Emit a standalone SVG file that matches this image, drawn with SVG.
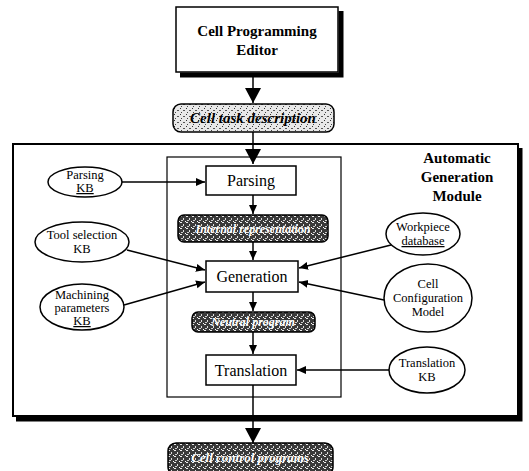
<svg xmlns="http://www.w3.org/2000/svg" width="529" height="471" viewBox="0 0 529 471">
<defs>
<pattern id="lite" width="6" height="6" patternUnits="userSpaceOnUse">
<rect width="6" height="6" fill="#e8e8e8"/>
<rect x="0" y="0" width="1" height="1" fill="#333"/>
<rect x="3" y="2" width="2" height="1" fill="#555"/>
<rect x="1" y="4" width="1" height="1" fill="#444"/>
</pattern>
<pattern id="dark" width="6" height="6" patternUnits="userSpaceOnUse">
<rect width="6" height="6" fill="#3a3a3a"/>
<rect x="0" y="0" width="2" height="1" fill="#eee"/>
<rect x="3" y="2" width="1" height="2" fill="#ddd"/>
<rect x="1" y="4" width="2" height="1" fill="#ccc"/>
<rect x="5" y="5" width="1" height="1" fill="#fff"/>
</pattern>
<marker id="big" markerWidth="16" markerHeight="16" refX="15" refY="8" orient="auto" markerUnits="userSpaceOnUse">
<path d="M0,0 L15,8 L0,16 Z" fill="#000"/>
</marker>
<marker id="sm" markerWidth="10" markerHeight="10" refX="9" refY="5" orient="auto" markerUnits="userSpaceOnUse">
<path d="M0,1 L9,5 L0,9 Z" fill="#000"/>
</marker>
<style>
.box{fill:#fff;stroke:#000;stroke-width:1.5}
.ell{fill:#fff;stroke:#000;stroke-width:1.5}
text{font-family:'Liberation Serif','DejaVu Serif',serif;text-anchor:middle;fill:#000}
.b{font-weight:bold}
.proc{font-size:16px}
.kb{font-size:12.5px}
.data{font-style:italic;font-weight:bold}
.inv{fill:#fff}
.line{stroke:#000;stroke-width:1.5;fill:none}
.shadow{stroke:#000;fill:none}
</style>
</defs>

<g id="editor">
<path class="shadow" d="M341,11 L341,75 L180,75" stroke-width="5"/>
<rect class="box" x="176" y="7" width="162" height="65" stroke-width="2"/>
<text class="b" x="257" y="36" font-size="15">Cell Programming</text>
<text class="b" x="257" y="55" font-size="15">Editor</text>
</g>

<g id="cell-task-description">
<rect x="173" y="104" width="161" height="28" rx="8" fill="url(#lite)" stroke="#000" stroke-width="1.5"/>
<text class="data" x="253" y="123" font-size="15">Cell task description</text>
</g>

<g id="agm">
<path class="shadow" d="M520,148 L520,419 L16,419" stroke-width="5"/>
<rect x="13" y="144" width="505" height="272" fill="none" stroke="#000" stroke-width="2"/>
<text class="b" x="457" y="163" font-size="15">Automatic</text>
<text class="b" x="457" y="182" font-size="15">Generation</text>
<text class="b" x="457" y="201" font-size="15">Module</text>
<rect x="167" y="157" width="174" height="240" fill="none" stroke="#000" stroke-width="1.2"/>
</g>

<g id="parsing">
<rect class="box" x="206" y="166" width="90" height="29"/>
<text class="proc" x="251" y="186">Parsing</text>
</g>

<g id="parsed-data">
<rect x="178" y="215" width="150" height="27" rx="6" fill="url(#dark)" stroke="#000" stroke-width="1.5"/>
<text class="data inv" x="253" y="233" font-size="12">Internal representation</text>
</g>

<g id="generation">
<rect class="box" x="206" y="261" width="92" height="31"/>
<text class="proc" x="252" y="282">Generation</text>
</g>

<g id="generated-data">
<rect x="192" y="312" width="123" height="20" rx="6" fill="url(#dark)" stroke="#000" stroke-width="1.5"/>
<text class="data inv" x="253" y="326" font-size="12">Neutral program</text>
</g>

<g id="translation">
<rect class="box" x="206" y="355" width="90" height="30"/>
<text class="proc" x="251" y="376">Translation</text>
</g>

<g id="cell-programs">
<rect x="168" y="443" width="165" height="32" rx="8" fill="url(#dark)" stroke="#000" stroke-width="1.5"/>
<text class="data inv" x="250" y="462" font-size="13">Cell control programs</text>
</g>

<g id="parsing-kb">
<ellipse class="ell" cx="85" cy="182" rx="37" ry="15"/>
<text class="kb" x="85" y="179">Parsing</text>
<text class="kb" x="85" y="192" text-decoration="underline">KB</text>
</g>

<g id="tool-selection-kb">
<ellipse class="ell" cx="82" cy="242" rx="47" ry="20"/>
<text class="kb" x="82" y="239">Tool selection</text>
<text class="kb" x="82" y="253">KB</text>
</g>

<g id="machining-parameters-kb">
<ellipse class="ell" cx="82" cy="307" rx="42" ry="23"/>
<text class="kb" x="82" y="299">Machining</text>
<text class="kb" x="82" y="312">parameters</text>
<text class="kb" x="82" y="325" text-decoration="underline">KB</text>
</g>

<g id="workpiece-database">
<ellipse class="ell" cx="423" cy="234" rx="37" ry="21"/>
<text class="kb" x="423" y="231">Workpiece</text>
<text class="kb" x="423" y="245" text-decoration="underline">database</text>
</g>

<g id="cell-configuration-model">
<ellipse class="ell" cx="428" cy="298" rx="44" ry="34"/>
<text class="kb" x="428" y="288">Cell</text>
<text class="kb" x="428" y="302">Configuration</text>
<text class="kb" x="428" y="316">Model</text>
</g>

<g id="translation-kb">
<ellipse class="ell" cx="427" cy="370" rx="38" ry="23"/>
<text class="kb" x="427" y="367">Translation</text>
<text class="kb" x="427" y="381">KB</text>
</g>

<g id="connectors">
<line class="line" x1="253" y1="75" x2="253" y2="103" marker-end="url(#big)"/>
<line class="line" x1="253" y1="132" x2="253" y2="164" marker-end="url(#big)"/>
<line class="line" x1="122" y1="182" x2="205" y2="182" marker-end="url(#sm)"/>
<line class="line" x1="253" y1="195" x2="253" y2="214" marker-end="url(#sm)"/>
<line class="line" x1="253" y1="242" x2="253" y2="260" marker-end="url(#sm)"/>
<line class="line" x1="127" y1="250" x2="205" y2="270" marker-end="url(#sm)"/>
<line class="line" x1="124" y1="305" x2="205" y2="282" marker-end="url(#sm)"/>
<line class="line" x1="391" y1="245" x2="299" y2="268" marker-end="url(#sm)"/>
<line class="line" x1="384" y1="300" x2="299" y2="282" marker-end="url(#sm)"/>
<line class="line" x1="253" y1="292" x2="253" y2="311" marker-end="url(#sm)"/>
<line class="line" x1="253" y1="332" x2="253" y2="354" marker-end="url(#sm)"/>
<line class="line" x1="389" y1="370" x2="297" y2="370" marker-end="url(#sm)"/>
<line class="line" x1="253" y1="385" x2="253" y2="443" marker-end="url(#big)"/>
</g>
</svg>
